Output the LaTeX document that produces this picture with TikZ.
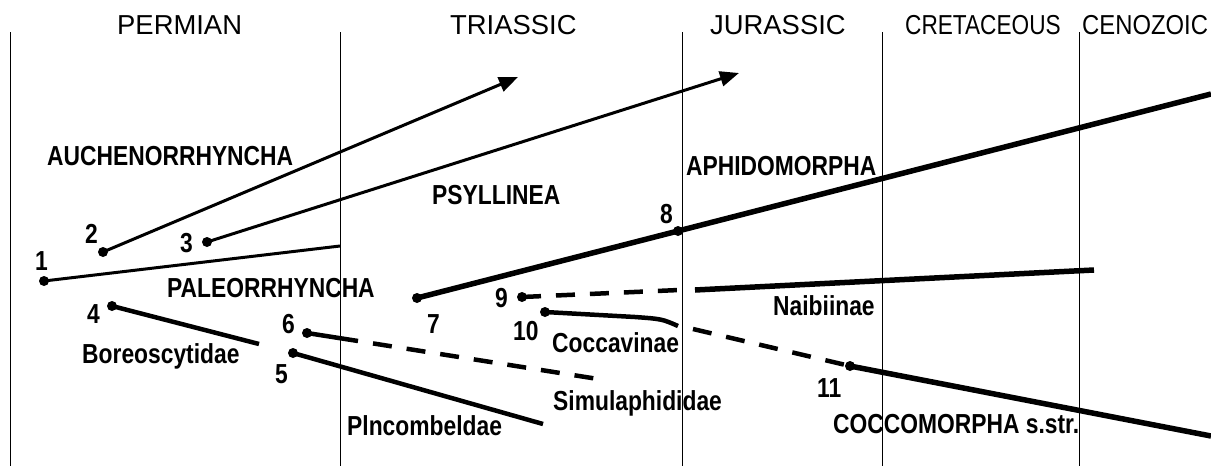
\documentclass[tikz,border=0pt]{standalone}
\usepackage{fontspec}
\setmainfont{Liberation Sans}
\usetikzlibrary{arrows.meta}
\newcommand{\hdrtext}[2][1]{\scalebox{#1}[1]{\fontsize{27.4}{30}\selectfont #2}}
\newcommand{\lbltext}[1]{\scalebox{0.83}[1]{\fontsize{27.5}{30}\selectfont\bfseries #1}}
\tikzset{
  era/.style={draw, line width=1pt},
  dot/.style={circle, fill=black, inner sep=0pt, minimum size=10pt},
  txt/.style={inner sep=0pt, anchor=base west},
  thinline/.style={line width=3pt},
  midline/.style={line width=4.5pt},
  heavyline/.style={line width=5.5pt},
  arrowline/.style={line width=3pt, -{Triangle[length=19pt,width=15pt]}},
  dashes/.style={dash pattern=on 19pt off 15pt},
}
\begin{document}
\begin{tikzpicture}[x=1pt,y=-1pt]
\path[use as bounding box] (0,0) rectangle (1211,466);
% era boundaries
\foreach \x [count=\i] in {10,340,682,882,1079} {
  \coordinate (t\i) at (\x,32);
  \coordinate (b\i) at (\x,466);
  \draw[era] (t\i) -- (b\i);
}
% headers
\node[txt] (hP) at (117,34) {\hdrtext{PERMIAN}};
\node[txt] (hT) at (450,34) {\hdrtext{TRIASSIC}};
\node[txt] (hJ) at (710,34) {\hdrtext{JURASSIC}};
\node[txt] (hK) at (905,34) {\hdrtext[0.826]{CRETACEOUS}};
\node[txt] (hC) at (1082,34) {\hdrtext[0.87]{CENOZOIC}};
% labels
\node[txt] (lA) at (47,165) {\lbltext{AUCHENORRHYNCHA}};
\node[txt] (lPs) at (432,204) {\lbltext{PSYLLINEA}};
\node[txt] (lAp) at (686,175) {\lbltext{APHIDOMORPHA}};
\node[txt] (lPa) at (167,297) {\lbltext{PALEORRHYNCHA}};
\node[txt] (lB) at (82,363) {\lbltext{Boreoscytidae}};
\node[txt] (lCv) at (552,352) {\lbltext{Coccavinae}};
\node[txt] (lN) at (773,315) {\lbltext{Naibiinae}};
\node[txt] (lS) at (553,410) {\lbltext{Simulaphididae}};
\node[txt] (lPl) at (347,435) {\lbltext{Plncombeldae}};
\node[txt] (lCm) at (833,433) {\lbltext{COCCOMORPHA s.str.}};
% numbers
\node[txt] (n1) at (35,270) {\lbltext{1}};
\node[txt] (n2) at (85,243) {\lbltext{2}};
\node[txt] (n3) at (180,252) {\lbltext{3}};
\node[txt] (n4) at (87,323) {\lbltext{4}};
\node[txt] (n5) at (275,383) {\lbltext{5}};
\node[txt] (n6) at (282,333) {\lbltext{6}};
\node[txt] (n7) at (427,333) {\lbltext{7}};
\node[txt] (n8) at (660,223) {\lbltext{8}};
\node[txt] (n9) at (495,307) {\lbltext{9}};
\node[txt] (n10) at (513,340) {\lbltext{10}};
\node[txt] (n11) at (817,397) {\lbltext{11}};
% dots
\node[dot] (d1) at (44,281) {};
\node[dot] (d2) at (103,252) {};
\node[dot] (d3) at (207,242) {};
\node[dot] (d4) at (112,306) {};
\node[dot] (d5) at (293,353) {};
\node[dot] (d6) at (307,333) {};
\node[dot] (d7) at (417,298) {};
\node[dot] (d8) at (678,231) {};
\node[dot] (d9) at (522,297) {};
\node[dot] (d10) at (545,312) {};
\node[dot] (d11) at (850,366) {};
% end points
\coordinate (e1) at (340,246);
\coordinate (e2) at (518,77);
\coordinate (e3) at (739,73);
\coordinate (e4) at (259,344);
\coordinate (e5) at (543,424);
\coordinate (c6a) at (358,341);
\coordinate (c6b) at (373,343.4);
\coordinate (e6) at (598,379);
\coordinate (e7) at (1211,94);
\coordinate (c9a) at (679,290);
\coordinate (c9b) at (695,290);
\coordinate (e9) at (1094,270);
\coordinate (c10a) at (635,317);
\coordinate (c10m) at (662,319);
\coordinate (c10b) at (678,326);
\coordinate (c11a) at (693,329);
\coordinate (e11) at (1211,436);
% connectors
\draw[thinline] (d1.center) -- (e1);
\draw[arrowline] (d2.center) -- (e2);
\draw[arrowline] (d3.center) -- (e3);
\draw[midline] (d4.center) -- (e4);
\draw[midline] (d5.center) -- (e5);
\draw[midline] (d6.center) -- (c6a);
\draw[midline, dashes] (c6b) -- (e6);
\draw[heavyline] (d7.center) -- (d8.center) -- (e7);
\draw[midline, dashes] (d9.center) -- (c9a);
\draw[heavyline] (c9b) -- (e9);
\draw[midline] (d10.center) -- (c10a) .. controls (c10m) .. (c10b);
\draw[midline, dashes] (c11a) -- (d11.center);
\draw[heavyline] (d11.center) -- (e11);
\end{tikzpicture}
\end{document}
